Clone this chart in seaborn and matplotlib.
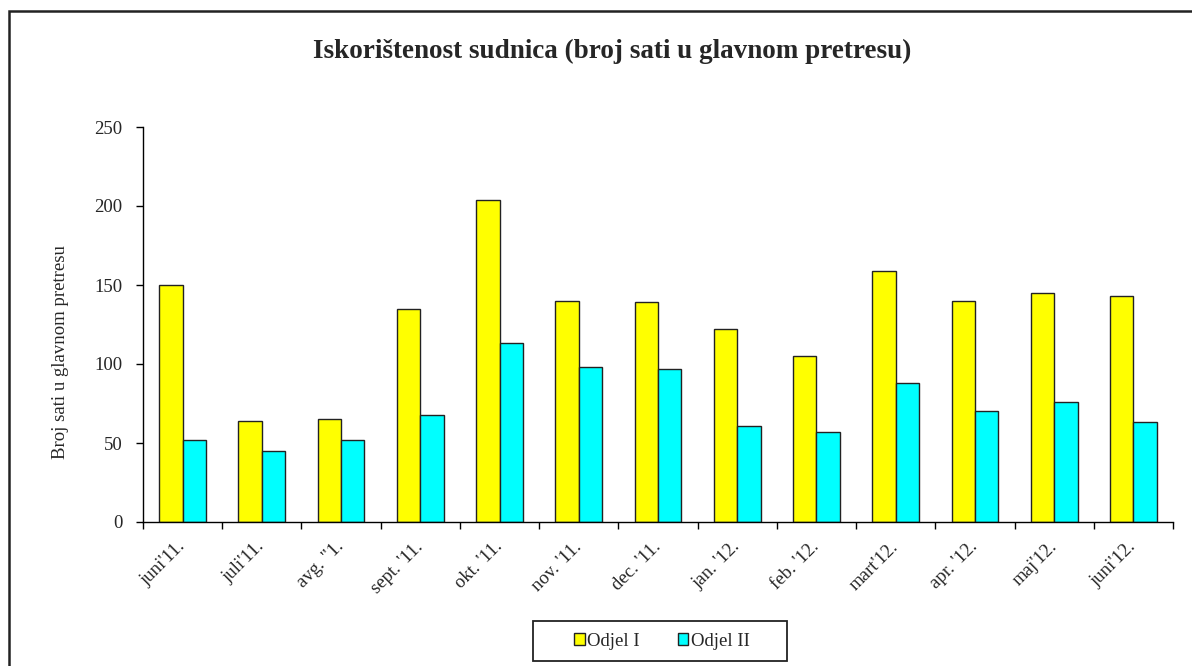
import matplotlib
matplotlib.use("Agg")
import matplotlib.pyplot as plt
import seaborn as sns
import pandas as pd
import numpy as np
from matplotlib.patches import Rectangle, Patch

months = ["juni'11.", "juli'11.", "avg. \"1.", "sept. '11.", "okt. '11.", "nov. '11.",
          "dec. '11.", "jan. '12.", "feb. '12.", "mart'12.", "apr. '12.", "maj'12.", "juni'12."]
odjel_1 = [150, 64, 65, 135, 204, 140, 139, 122, 105, 159, 140, 145, 143]
odjel_2 = [52, 45, 52, 68, 113, 98, 97, 61, 57, 88, 70, 76, 63]
series_names = ["Odjel I", "Odjel II"]
colors = ["#FFFF00", "#00FFFF"]
y_ticks = [0, 50, 100, 150, 200, 250]

df = pd.DataFrame({
    "month": months * 2,
    "value": odjel_1 + odjel_2,
    "series": [series_names[0]] * len(months) + [series_names[1]] * len(months),
})

sns.set_theme(style="white")
plt.rcParams["font.family"] = ["Liberation Serif", "DejaVu Serif"]

fig = plt.figure(figsize=(11.92, 6.66), dpi=100)
ax = fig.add_axes([143 / 1192, 1 - 522 / 666, (1173 - 143) / 1192, (522 - 127) / 666])

sns.barplot(data=df, x="month", y="value", hue="series", order=months,
            hue_order=series_names, palette=colors, width=0.59,
            edgecolor="#222222", linewidth=1.0, ax=ax, legend=False, saturation=1)

ax.set_xlim(-0.5, len(months) - 0.5)
ax.set_ylim(0, 250)
ax.set_yticks(y_ticks)
ax.set_yticklabels([str(t) for t in y_ticks], fontsize=13.5)

ax.set_xticks(np.arange(-0.5, len(months), 1.0))
ax.set_xticklabels([])
ax.set_xticks(np.arange(len(months)), minor=True)
ax.set_xticklabels(months, minor=True, rotation=45, ha="right", va="center",
                   rotation_mode="anchor", fontsize=13.5)
ax.tick_params(axis="x", which="minor", length=0, pad=16)
ax.tick_params(axis="x", which="major", direction="out", length=5, width=1, color="black", bottom=True)
ax.tick_params(axis="y", direction="out", length=5, width=1, color="black", left=True, pad=10)

for s in ["top", "right"]:
    ax.spines[s].set_visible(False)
for s in ["left", "bottom"]:
    ax.spines[s].set_color("black")
    ax.spines[s].set_linewidth(1.0)

ax.set_xlabel("")
ax.set_ylabel("Broj sati u glavnom pretresu", fontsize=13.5)
ax.yaxis.set_label_coords(-0.072, 0.43)

fig.text(612 / 1192, 1 - 51 / 666, "Iskorištenost sudnica (broj sati u glavnom pretresu)",
         ha="center", va="center", fontsize=19.5, fontweight="bold")

handles = [Patch(facecolor=c, edgecolor="#222222", linewidth=1.0) for c in colors]
leg = fig.legend(handles, series_names, loc="center", ncol=2,
                 bbox_to_anchor=(662 / 1192, 1 - 641 / 666), frameon=False,
                 fontsize=13.5, handlelength=0.55, handleheight=0.55,
                 handletextpad=0.15, columnspacing=2.0, borderpad=0.6, borderaxespad=0)

fig.patches.append(Rectangle((533 / 1192, 1 - 661 / 666), (787 - 533) / 1192, 40 / 666,
                             transform=fig.transFigure, fill=False,
                             edgecolor="#222222", linewidth=1.3))

fig.patches.append(Rectangle((9 / 1192, -0.05), 1.2, 1 - 11 / 666 + 0.05,
                             transform=fig.transFigure, fill=False,
                             edgecolor="#222222", linewidth=1.8))

fig.savefig("out.png", dpi=100)
